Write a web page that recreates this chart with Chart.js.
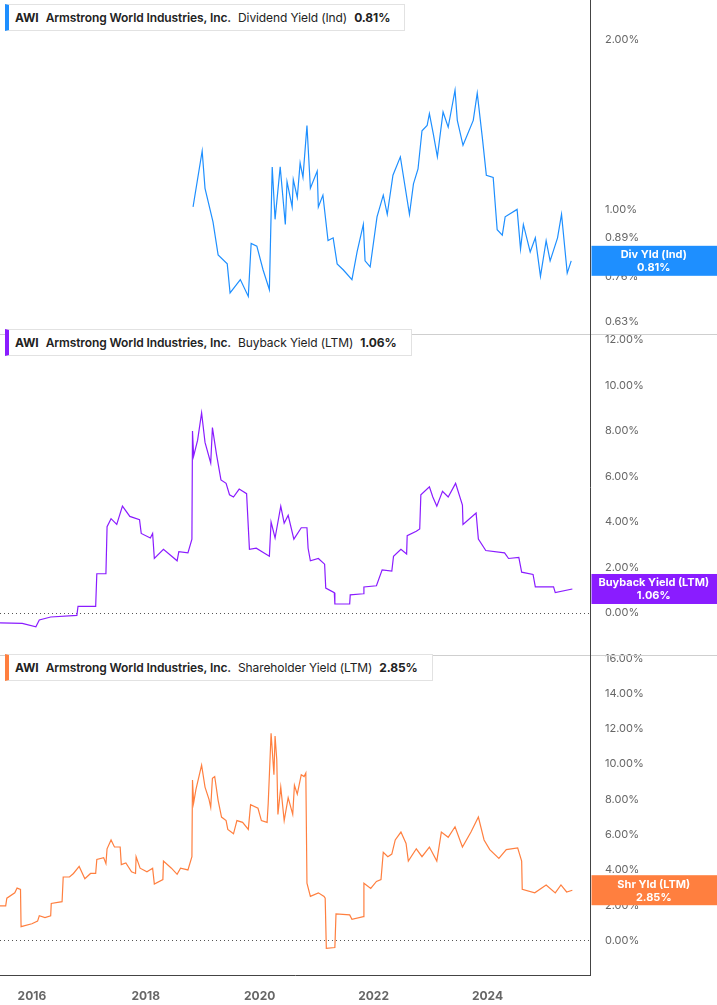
<!doctype html>
<html>
<head>
<meta charset="UTF-8">
<script src="https://cdn.jsdelivr.net/npm/chart.js@4.4.1/dist/chart.umd.min.js"></script>
<title>AWI yields</title>
<style>
body{margin:0;background:#fff;font-family:Inter,"Open Sans",sans-serif;}
#wrap{position:relative;width:717px;height:1005px;}
.lg{position:absolute;left:5px;height:25px;line-height:25px;background:#fff;border:1px solid #e2e2e2;border-left:4px solid #1e8fff;padding:0 7px 0 6px;font-size:12px;color:#222;white-space:nowrap;letter-spacing:-0.1px;}
.lg b{font-weight:700;margin-right:7px;}
.lg span{margin-right:7px;}
.lg .nm{font-weight:600;}
</style>
</head>
<body>
<div id="wrap">
<canvas id="LineChart" width="717" height="1005"></canvas>
<div class="lg" style="top:4px;border-left-color:#1e8fff"><b>AWI</b><span class="nm">Armstrong World Industries, Inc.</span><span>Dividend Yield (Ind)</span><b>0.81%</b></div>
<div class="lg" style="top:329px;border-left-color:#8a1cff"><b>AWI</b><span class="nm">Armstrong World Industries, Inc.</span><span>Buyback Yield (LTM)</span><b>1.06%</b></div>
<div class="lg" style="top:654px;border-left-color:#ff7f3f"><b>AWI</b><span class="nm">Armstrong World Industries, Inc.</span><span>Shareholder Yield (LTM)</span><b>2.85%</b></div>
</div>
<script>

// years on x, percent on y
var yearTicks = [2016, 2018, 2020, 2022, 2024];
var divTicks = [0.63, 0.76, 0.89, 1.00, 2.00];

var divYield = [[2018.83,1.01],[2018.99,1.27],[2019.04,1.09],[2019.18,0.95],[2019.27,0.83],[2019.43,0.80],[2019.48,0.71],[2019.66,0.75],[2019.80,0.70],[2019.85,0.87],[2019.95,0.86],[2020.06,0.78],[2020.17,0.72],[2020.22,1.19],[2020.27,0.96],[2020.36,1.19],[2020.45,0.94],[2020.48,1.12],[2020.57,1.01],[2020.59,1.13],[2020.66,1.05],[2020.71,1.21],[2020.76,1.14],[2020.83,1.41],[2020.89,1.09],[2021.01,1.17],[2021.03,1.01],[2021.11,1.06],[2021.20,0.88],[2021.29,0.89],[2021.36,0.80],[2021.47,0.78],[2021.62,0.75],[2021.71,0.84],[2021.82,0.94],[2021.85,0.81],[2021.94,0.79],[2022.06,0.97],[2022.17,1.06],[2022.24,0.98],[2022.34,1.15],[2022.47,1.24],[2022.63,0.98],[2022.70,1.11],[2022.78,1.18],[2022.85,1.38],[2022.94,1.41],[2022.98,1.48],[2023.05,1.36],[2023.12,1.24],[2023.22,1.49],[2023.31,1.40],[2023.43,1.63],[2023.47,1.44],[2023.57,1.30],[2023.75,1.44],[2023.82,1.61],[2023.91,1.34],[2023.98,1.15],[2024.10,1.14],[2024.17,0.92],[2024.26,0.90],[2024.31,0.97],[2024.52,1.00],[2024.58,0.85],[2024.63,0.94],[2024.75,0.84],[2024.84,0.89],[2024.93,0.76],[2025.03,0.88],[2025.10,0.81],[2025.23,0.89],[2025.30,0.98],[2025.40,0.77],[2025.47,0.81]];

var buybackYield = [[2015.44,-0.43],[2015.83,-0.45],[2016.07,-0.6],[2016.13,-0.3],[2016.33,-0.17],[2016.79,-0.1],[2016.81,0.3],[2017.12,0.3],[2017.14,1.73],[2017.30,1.73],[2017.32,3.8],[2017.39,4.15],[2017.49,3.9],[2017.59,4.7],[2017.72,4.25],[2017.89,4.1],[2017.92,3.5],[2018.08,3.3],[2018.12,3.5],[2018.15,2.4],[2018.31,2.8],[2018.55,2.3],[2018.58,2.7],[2018.74,2.65],[2018.81,3.25],[2018.82,8.0],[2018.84,6.9],[2018.91,7.6],[2018.98,8.8],[2019.04,7.5],[2019.14,6.6],[2019.17,8.15],[2019.24,7.0],[2019.32,5.85],[2019.41,5.7],[2019.47,5.2],[2019.54,5.1],[2019.64,5.45],[2019.77,5.25],[2019.82,2.8],[2019.94,2.85],[2020.07,2.65],[2020.17,2.5],[2020.20,4.0],[2020.27,3.3],[2020.37,4.7],[2020.43,3.95],[2020.50,4.3],[2020.60,3.25],[2020.73,3.75],[2020.83,3.75],[2020.85,2.85],[2020.89,2.3],[2021.03,2.4],[2021.14,2.15],[2021.16,1.1],[2021.31,0.9],[2021.32,0.4],[2021.58,0.4],[2021.59,0.8],[2021.82,0.85],[2021.83,1.15],[2022.05,1.2],[2022.15,1.9],[2022.32,1.85],[2022.35,2.5],[2022.48,2.8],[2022.58,2.6],[2022.59,3.4],[2022.75,3.6],[2022.81,3.7],[2022.83,5.2],[2022.98,5.55],[2023.04,5.1],[2023.11,4.7],[2023.21,5.35],[2023.31,5.1],[2023.44,5.7],[2023.56,4.75],[2023.57,3.9],[2023.80,4.4],[2023.84,3.25],[2023.97,2.75],[2024.30,2.65],[2024.37,2.4],[2024.55,2.45],[2024.60,1.8],[2024.80,1.7],[2024.84,1.15],[2025.16,1.15],[2025.19,0.9],[2025.49,1.06]];

var shareholderYield = [[2015.44,1.96],[2015.54,1.96],[2015.56,2.4],[2015.70,2.7],[2015.74,2.97],[2015.80,2.9],[2015.81,0.78],[2016.00,0.95],[2016.10,1.1],[2016.13,1.4],[2016.23,1.3],[2016.33,1.4],[2016.34,2.1],[2016.53,2.2],[2016.55,3.6],[2016.66,3.6],[2016.73,3.8],[2016.83,4.2],[2016.93,3.5],[2017.03,3.8],[2017.12,3.8],[2017.14,4.6],[2017.26,4.7],[2017.30,4.36],[2017.32,5.2],[2017.39,5.7],[2017.45,5.3],[2017.55,5.3],[2017.57,4.3],[2017.65,4.4],[2017.75,3.9],[2017.82,3.8],[2017.83,4.75],[2017.90,4.1],[2018.02,3.9],[2018.12,4.1],[2018.15,3.2],[2018.30,3.45],[2018.31,4.5],[2018.45,4.1],[2018.55,3.75],[2018.61,4.1],[2018.74,4.0],[2018.81,4.75],[2018.82,9.1],[2018.84,7.8],[2018.88,8.55],[2018.98,9.95],[2019.04,8.7],[2019.11,8.0],[2019.14,7.55],[2019.17,9.2],[2019.21,9.3],[2019.27,7.95],[2019.33,7.0],[2019.41,6.8],[2019.44,6.3],[2019.54,6.05],[2019.60,6.8],[2019.70,6.7],[2019.80,6.3],[2019.84,7.7],[2019.97,7.5],[2020.03,6.8],[2020.13,6.7],[2020.15,7.8],[2020.20,11.75],[2020.25,9.4],[2020.27,11.6],[2020.30,10.25],[2020.32,7.15],[2020.37,8.7],[2020.43,6.8],[2020.50,8.1],[2020.58,7.15],[2020.61,8.8],[2020.66,8.3],[2020.73,9.4],[2020.78,9.3],[2020.81,9.5],[2020.83,3.25],[2020.89,2.5],[2021.03,2.7],[2021.13,2.5],[2021.15,2.4],[2021.17,-0.45],[2021.32,-0.4],[2021.34,1.5],[2021.58,1.45],[2021.62,1.2],[2021.82,1.35],[2021.83,3.25],[2021.95,2.95],[2022.05,3.35],[2022.13,3.45],[2022.17,5.0],[2022.25,4.75],[2022.32,4.9],[2022.38,5.7],[2022.48,6.15],[2022.57,5.5],[2022.61,4.5],[2022.75,5.2],[2022.85,4.75],[2022.98,5.3],[2023.11,4.5],[2023.19,6.15],[2023.31,5.85],[2023.43,6.45],[2023.56,5.3],[2023.71,6.15],[2023.84,7.0],[2023.94,5.7],[2024.04,5.15],[2024.20,4.65],[2024.33,5.15],[2024.53,5.25],[2024.60,4.5],[2024.61,2.9],[2024.83,2.7],[2025.03,3.15],[2025.19,2.7],[2025.29,3.15],[2025.39,2.75],[2025.49,2.85]];

var callouts = [
  {axis:'y1', value:0.81, color:'#1e8fff', name:'Div Yld (Ind)'},
  {axis:'y2', value:1.06, color:'#8a1cff', name:'Buyback Yield (LTM)'},
  {axis:'y3', value:2.85, color:'#ff7f3f', name:'Shr Yld (LTM)'}
];

function pts(arr){ return arr.map(function(p){ return {x:p[0], y:p[1]}; }); }
function pct(v){ return Number(v).toFixed(2) + '%'; }
function fixWidth(s){ s.width = 127; }

var panelPlugin = {
  id:'panels',
  afterDraw:function(chart){
    var ctx = chart.ctx;
    ctx.save();
    ctx.strokeStyle = '#cfcfcf';
    ctx.lineWidth = 1;
    ['y1','y2'].forEach(function(id){
      var b = Math.round(chart.scales[id].bottom) + 0.5;
      ctx.beginPath(); ctx.moveTo(0,b); ctx.lineTo(717,b); ctx.stroke();
    });
    ctx.strokeStyle = '#444';
    var r = Math.round(chart.chartArea.right) + 0.5;
    ctx.beginPath(); ctx.moveTo(r,0); ctx.lineTo(r,chart.chartArea.bottom); ctx.stroke();
    // value boxes on the right axis
    callouts.forEach(function(c){
      var y = chart.scales[c.axis].getPixelForValue(c.value);
      ctx.fillStyle = c.color;
      ctx.fillRect(r+1, y-15, 717-r, 30);
      ctx.fillStyle = '#fff';
      ctx.font = 'bold 11px Inter, sans-serif';
      ctx.textAlign = 'center';
      ctx.textBaseline = 'middle';
      var cx = r + (717-r)/2;
      ctx.fillText(c.name, cx, y-6);
      ctx.fillText(pct(c.value), cx, y+7);
    });
    ctx.restore();
  }
};

// dotted zero line
var dashPlugin = {
  id:'zeroDash',
  beforeDatasetsDraw:function(chart){
    var ctx = chart.ctx;
    ctx.save();
    ctx.strokeStyle = '#555';
    ctx.setLineDash([1,3]);
    ['y2','y3'].forEach(function(id){
      var y = Math.round(chart.scales[id].getPixelForValue(0)) + 0.5;
      ctx.beginPath(); ctx.moveTo(chart.chartArea.left,y); ctx.lineTo(chart.chartArea.right,y); ctx.stroke();
    });
    ctx.restore();
  }
};

var tickStyle = {color:'#666', font:{size:11, family:'Inter'}, padding:7, crossAlign:'near', callback:pct};

var ctx = document.getElementById("LineChart");
var LineChart = new Chart(ctx, {
  type:'line',
  data:{
    datasets:[
      {data:pts(divYield), yAxisID:'y1', borderColor:'#1e8fff'},
      {data:pts(buybackYield), yAxisID:'y2', borderColor:'#8a1cff'},
      {data:pts(shareholderYield), yAxisID:'y3', borderColor:'#ff7f3f'}
    ]
  },
  options:{
    responsive:false,
    animation:false,
    layout:{padding:{top:-10, left:0, right:0, bottom:0}},
    elements:{point:{radius:0}, line:{borderWidth:1.2, tension:0}},
    plugins:{legend:{display:false}, tooltip:{enabled:false}},
    scales:{
      x:{
        type:'linear', min:2015.44, max:2025.8,
        afterBuildTicks:function(s){ s.ticks = yearTicks.map(function(v){ return {value:v}; }); },
        afterFit:function(s){ s.height = 30; },
        grid:{display:false},
        border:{color:'#444'},
        ticks:{color:'#666', font:{size:12, weight:'bold', family:'Inter'}, padding:6, callback:function(v){ return String(v); }}
      },
      y1:{
        type:'logarithmic', position:'right', stack:'v', stackWeight:1, min:0.628, max:2.23,
        afterBuildTicks:function(s){ s.ticks = divTicks.map(function(v){ return {value:v}; }); },
        afterFit:fixWidth, grid:{display:false}, border:{display:false}, ticks:tickStyle
      },
      y2:{
        type:'linear', position:'right', stack:'v', stackWeight:1, min:-1.82, max:12.26,
        afterBuildTicks:function(s){ s.ticks = [0,2,4,6,8,10,12].map(function(v){ return {value:v}; }); },
        afterFit:fixWidth, grid:{display:false}, border:{display:false}, ticks:tickStyle
      },
      y3:{
        type:'linear', position:'right', stack:'v', stackWeight:1, min:-1.96, max:16.22,
        afterBuildTicks:function(s){ s.ticks = [0,2,4,6,8,10,12,14,16].map(function(v){ return {value:v}; }); },
        afterFit:fixWidth, grid:{display:false}, border:{display:false}, ticks:tickStyle
      }
    }
  },
  plugins:[panelPlugin, dashPlugin]
});

</script>
</body>
</html>
